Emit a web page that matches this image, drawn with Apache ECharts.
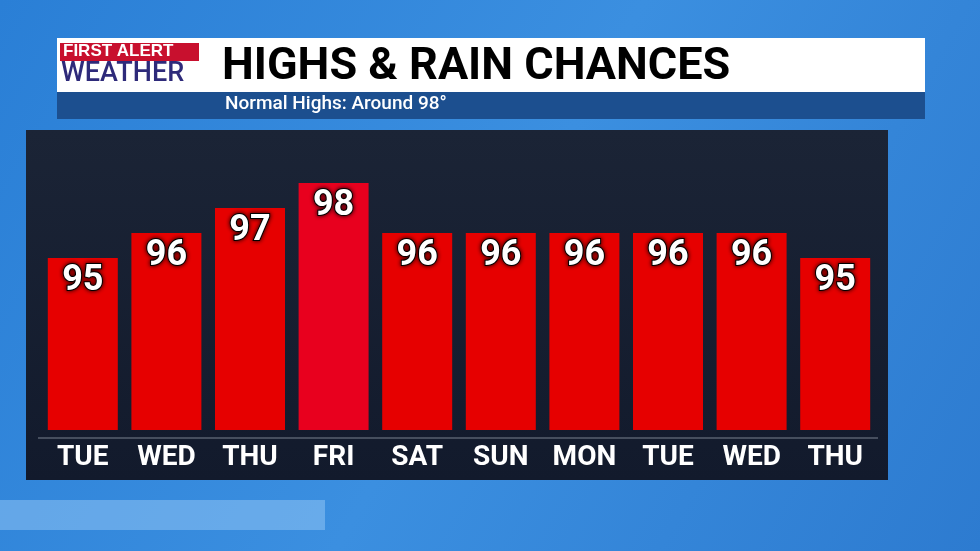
<!DOCTYPE html>
<html>
<head>
<meta charset="utf-8">
<script src="https://cdn.jsdelivr.net/npm/echarts@6/dist/echarts.min.js"></script>
<style>
html, body { margin: 0; padding: 0; }
#chart { width: 980px; height: 551px; }
</style>
</head>
<body>
<div id="chart"></div>
<script>
const days = ['TUE', 'WED', 'THU', 'FRI', 'SAT', 'SUN', 'MON', 'TUE', 'WED', 'THU'];
const highs = [95, 96, 97, 98, 96, 96, 96, 96, 96, 95];
const barColors = ['#e60000', '#e60000', '#e60000', '#e8001e', '#e60000', '#e60000', '#e60000', '#e60000', '#e60000', '#e60000'];

let chart = echarts.init(document.getElementById('chart'));
chart.setOption({
    backgroundColor: {
        type: 'linear', x: 0, y: 0, x2: 1, y2: 1,
        colorStops: [
            {offset: 0, color: '#2a7fd6'},
            {offset: 0.5, color: '#3b8fe0'},
            {offset: 1, color: '#2d7bd0'}
        ]
    },
    graphic: [
        // dark panel
        {type: 'rect', z: -10, shape: {x: 26, y: 130, width: 862, height: 350},
            style: {fill: {type: 'linear', x: 0, y: 0, x2: 0, y2: 1,
                colorStops: [{offset: 0, color: '#1b2436'}, {offset: 1, color: '#121a2c'}]}}},
        // light strips
        {type: 'rect', z: -11, shape: {x: 0, y: 500, width: 325, height: 30}, style: {fill: 'rgba(150,200,245,0.5)'}},
        // title bar
        {type: 'rect', shape: {x: 57, y: 38, width: 868, height: 54}, style: {fill: '#ffffff'}},
        {type: 'rect', shape: {x: 57, y: 92, width: 868, height: 27}, style: {fill: '#1c4f8f'}},
        {type: 'rect', shape: {x: 60, y: 43, width: 139, height: 18}, style: {fill: '#c8102e'}},
        {type: 'text', left: 63, top: 43, style: {text: 'FIRST ALERT', fill: '#fff', font: 'bold 17px "Liberation Sans"'}},
        {type: 'text', left: 61, top: 61, style: {text: 'WEATHER', fill: '#2e2a7a', font: '500 27px Roboto'}},
        {type: 'text', left: 222, top: 45, style: {text: 'HIGHS & RAIN CHANCES', fill: '#000', font: 'bold 45px Roboto'}},
        {type: 'text', left: 225, top: 95, style: {text: 'Normal Highs: Around 98°', fill: '#fff', font: '500 19px Roboto'}},
        // axis line
        {type: 'line', shape: {x1: 38, y1: 438, x2: 878, y2: 438}, style: {stroke: '#7a8290', lineWidth: 1}}
    ],
    grid: {left: 41, right: 103, top: 183, height: 247},
    xAxis: {
        type: 'category',
        data: days,
        axisLine: {show: false},
        axisTick: {show: false},
        axisLabel: {interval: 0, color: '#fff', fontFamily: 'Roboto', fontWeight: 'bold', fontSize: 28, margin: 14}
    },
    yAxis: {
        type: 'value', min: 88.12, max: 98, show: false, splitLine: {show: false}
    },
    series: [{
        type: 'bar',
        data: highs.map((v, i) => ({value: v, itemStyle: {color: barColors[i]}})),
        barWidth: 70,
        label: {
            show: true, position: 'insideTop', distance: 5,
            color: '#fff', fontFamily: 'Roboto', fontWeight: 'bold', fontSize: 36,
            textBorderColor: '#000', textBorderWidth: 2,
            textShadowColor: 'rgba(0,0,0,0.8)', textShadowBlur: 4
        }
    }]
});
</script>
</body>
</html>
